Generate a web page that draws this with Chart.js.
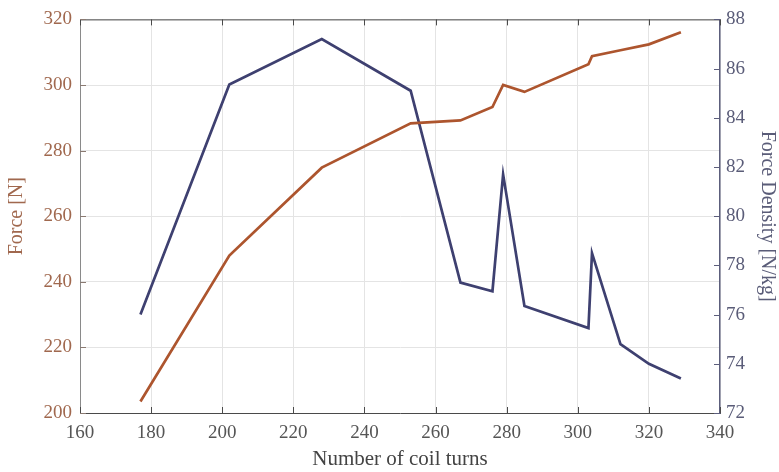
<!DOCTYPE html>
<html>
<head>
<meta charset="utf-8">
<script src="https://cdn.jsdelivr.net/npm/chart.js@4.4.1/dist/chart.umd.min.js"></script>
<style>
  html, body { margin: 0; padding: 0; background: #ffffff; }
  #wrap { width: 779px; height: 472px; position: relative; }
</style>
</head>
<body>
<div id="wrap"><canvas id="forceChart"></canvas></div>
<script>
// 数据
const coilTurns = [177, 202, 228, 253, 267, 276, 279, 285, 303, 304, 312, 320, 329];
const forceN = [203.5, 248.0, 274.8, 288.3, 289.2, 293.3, 300.0, 297.9, 306.3, 308.8, 310.6, 312.4, 316.1];
const forceDensity = [76.0, 85.35, 87.2, 85.1, 77.3, 76.95, 81.7, 76.35, 75.45, 78.5, 74.8, 74.0, 73.4];

const xTicks = [160, 180, 200, 220, 240, 260, 280, 300, 320, 340];
const leftTicks = [200, 220, 240, 260, 280, 300, 320];
const rightTicks = [72, 74, 76, 78, 80, 82, 84, 86, 88];

const FORCE_COLOR = '#ad552e';
const DENSITY_COLOR = '#3e4070';
const FONT = "'Liberation Serif', 'DejaVu Serif', serif";

// 内向刻度线 + 顶部边框
const inwardTicks = {
    id: 'inwardTicks',
    afterDraw(chart) {
        const { ctx, chartArea: a, scales } = chart;
        const len = 6;
        ctx.save();
        ctx.lineWidth = 1;
        // top border
        ctx.strokeStyle = '#4a4a4a';
        ctx.beginPath();
        ctx.moveTo(a.left, a.top + 0.5);
        ctx.lineTo(a.right, a.top + 0.5);
        ctx.stroke();
        // x ticks
        scales.x.ticks.forEach(t => {
            const px = Math.round(scales.x.getPixelForValue(t.value)) + 0.5;
            ctx.beginPath();
            ctx.moveTo(px, a.bottom); ctx.lineTo(px, a.bottom - len);
            ctx.moveTo(px, a.top); ctx.lineTo(px, a.top + len);
            ctx.stroke();
        });
        ctx.strokeStyle = '#8a7a72';
        scales.y.ticks.forEach(t => {
            const py = Math.round(scales.y.getPixelForValue(t.value)) + 0.5;
            ctx.beginPath();
            ctx.moveTo(a.left, py); ctx.lineTo(a.left + len, py);
            ctx.stroke();
        });
        ctx.strokeStyle = '#5c5e7c';
        scales.y1.ticks.forEach(t => {
            const py = Math.round(scales.y1.getPixelForValue(t.value)) + 0.5;
            ctx.beginPath();
            ctx.moveTo(a.right, py); ctx.lineTo(a.right - len, py);
            ctx.stroke();
        });
        ctx.restore();
    }
};

function fixedTicks(list) {
    return function (scale) {
        scale.ticks = list.map(v => ({ value: v }));
    };
}

new Chart(document.getElementById('forceChart'), {
    type: 'line',
    data: {
        datasets: [
            {
                label: 'Force',
                data: coilTurns.map((x, i) => ({ x: x, y: forceN[i] })),
                borderColor: FORCE_COLOR,
                borderWidth: 2.7,
                pointRadius: 0,
                tension: 0,
                yAxisID: 'y'
            },
            {
                label: 'Force Density',
                data: coilTurns.map((x, i) => ({ x: x, y: forceDensity[i] })),
                borderColor: DENSITY_COLOR,
                borderWidth: 2.7,
                pointRadius: 0,
                tension: 0,
                yAxisID: 'y1'
            }
        ]
    },
    options: {
        responsive: true,
        maintainAspectRatio: false,
        animation: false,
        layout: { padding: { top: 18, left: 0, right: 0, bottom: 0 } },
        plugins: {
            legend: { display: false },
            tooltip: { enabled: false }
        },
        scales: {
            x: {
                type: 'linear',
                min: 160,
                max: 340,
                afterBuildTicks: fixedTicks(xTicks),
                afterFit(scale) { scale.height = 59; },
                grid: { color: '#e4e4e4', lineWidth: 1, drawTicks: false },
                border: { color: '#4a4a4a', width: 1 },
                ticks: {
                    color: '#555555',
                    padding: 9,
                    font: { family: FONT, size: 19 }
                },
                title: {
                    display: true,
                    text: 'Number of coil turns',
                    color: '#444444',
                    padding: { top: 4, bottom: 0 },
                    font: { family: FONT, size: 21 }
                }
            },
            y: {
                type: 'linear',
                position: 'left',
                min: 200,
                max: 320,
                afterBuildTicks: fixedTicks(leftTicks),
                afterFit(scale) { scale.width = 80; },
                grid: { color: '#e4e4e4', lineWidth: 1, drawTicks: false },
                border: { color: '#8a8a8a', width: 1 },
                ticks: {
                    color: '#a0684e',
                    padding: 8,
                    font: { family: FONT, size: 19 }
                },
                title: {
                    display: true,
                    text: 'Force [N]',
                    color: '#a0684e',
                    padding: { top: 5, bottom: 0 },
                    font: { family: FONT, size: 20 }
                }
            },
            y1: {
                type: 'linear',
                position: 'right',
                min: 72,
                max: 88,
                afterBuildTicks: fixedTicks(rightTicks),
                afterFit(scale) { scale.width = 59; },
                grid: { drawOnChartArea: false, drawTicks: false },
                border: { color: '#5c5e7c', width: 1.5 },
                ticks: {
                    color: '#5a5c78',
                    padding: 6,
                    font: { family: FONT, size: 19 }
                },
                title: {
                    display: true,
                    text: 'Force Density [N/kg]',
                    color: '#5a5c78',
                    padding: { top: 0, bottom: 0 },
                    font: { family: FONT, size: 20 }
                }
            }
        }
    },
    plugins: [inwardTicks]
});
</script>
</body>
</html>
